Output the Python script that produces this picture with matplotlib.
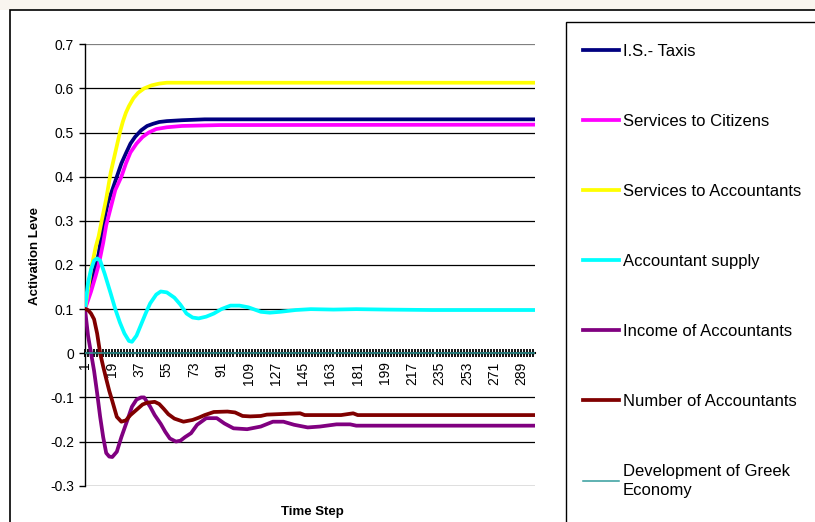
# -*- coding: utf-8 -*-
# activation levels over time steps, excel style line chart

# %% importing
import matplotlib as mpl
from matplotlib import pyplot as plt
from matplotlib.patches import Rectangle
import numpy as np

mpl.rcParams['font.family'] = ['Liberation Sans', 'DejaVu Sans']

# %% data
labels = ['I.S.- Taxis', 'Services to Citizens', 'Services to Accountants',
          'Accountant supply', 'Income of Accountants', 'Number of Accountants',
          'Development of Greek\nEconomy']
colors = ['#000080', '#ff00ff', '#ffff00', '#00ffff', '#800080', '#800000', '#339c9c']

taxis_t = [1, 5, 8, 10, 13, 16, 19, 22, 25, 28, 31, 34, 38, 42, 46, 50, 55, 65, 80, 298]
taxis_v = [0.10, 0.16, 0.20, 0.225, 0.29, 0.34, 0.37, 0.40, 0.43, 0.453, 0.475, 0.49,
           0.505, 0.515, 0.52, 0.524, 0.526, 0.528, 0.53, 0.53]

citizens_t = [1, 5, 8, 10, 13, 15, 18, 21, 25, 28, 31, 35, 39, 43, 48, 55, 65, 90, 298]
citizens_v = [0.10, 0.14, 0.175, 0.20, 0.25, 0.29, 0.33, 0.37, 0.40, 0.43, 0.455, 0.475,
              0.49, 0.50, 0.508, 0.512, 0.515, 0.517, 0.518]

accountants_t = [1, 5, 8, 10, 12, 15, 18, 20, 24, 26, 28, 30, 33, 36, 40, 45, 50, 55, 298]
accountants_v = [0.10, 0.19, 0.24, 0.265, 0.30, 0.35, 0.41, 0.44, 0.50, 0.525, 0.545,
                 0.56, 0.578, 0.59, 0.60, 0.607, 0.611, 0.613, 0.613]

supply_t = [1, 3, 5, 7, 9, 11, 14, 18, 21, 24, 27, 30, 32, 35, 38, 41, 44, 48, 51, 55,
            60, 64, 68, 72, 76, 81, 86, 91, 97, 103, 109, 117, 123, 130, 140, 150, 165,
            180, 200, 230, 298]
supply_v = [0.10, 0.16, 0.19, 0.21, 0.215, 0.21, 0.18, 0.135, 0.10, 0.07, 0.045, 0.028,
            0.026, 0.04, 0.065, 0.09, 0.113, 0.133, 0.14, 0.138, 0.126, 0.11, 0.09,
            0.081, 0.079, 0.083, 0.09, 0.10, 0.108, 0.108, 0.104, 0.094, 0.092, 0.094,
            0.098, 0.10, 0.099, 0.10, 0.099, 0.098, 0.098]

income_t = [1, 2, 3, 5, 7, 9, 11, 13, 15, 17, 19, 22, 25, 29, 32, 35, 38, 40, 44, 47,
            51, 54, 57, 61, 64, 67, 71, 75, 81, 88, 93, 99, 108, 117, 125, 132, 139,
            148, 156, 167, 176, 180, 298]
income_v = [0.10, 0.07, 0.04, 0.0, -0.04, -0.09, -0.144, -0.19, -0.226, -0.234, -0.235,
            -0.223, -0.19, -0.151, -0.121, -0.105, -0.10, -0.10, -0.121, -0.14, -0.16,
            -0.178, -0.193, -0.20, -0.198, -0.19, -0.181, -0.162, -0.147, -0.147,
            -0.159, -0.17, -0.172, -0.166, -0.155, -0.155, -0.162, -0.168, -0.166,
            -0.161, -0.161, -0.164, -0.164]

number_t = [1, 3, 5, 7, 9, 11, 13, 15, 17, 19, 22, 25, 28, 31, 35, 39, 42, 47, 50, 53,
            56, 60, 66, 72, 76, 80, 86, 95, 100, 105, 110, 117, 121, 135, 143, 146, 170,
            178, 181, 298]
number_v = [0.10, 0.098, 0.09, 0.077, 0.045, 0.0, -0.03, -0.058, -0.085, -0.108, -0.144,
            -0.155, -0.152, -0.14, -0.128, -0.116, -0.112, -0.11, -0.115, -0.126,
            -0.138, -0.148, -0.155, -0.151, -0.146, -0.14, -0.133, -0.132, -0.134,
            -0.142, -0.143, -0.142, -0.139, -0.137, -0.136, -0.14, -0.14, -0.136,
            -0.14, -0.14]

economy_t = [1, 298]
economy_v = [0.0, 0.0]

yticks = [0.7, 0.6, 0.5, 0.4, 0.3, 0.2, 0.1, 0, -0.1, -0.2, -0.3]
ytick_labels = ['0.7', '0.6', '0.5', '0.4', '0.3', '0.2', '0.1', '0', '-0.1', '-0.2', '-0.3']
xticks = list(range(1, 298, 18))

# %% plotting
fig = plt.figure(figsize=(8.15, 5.22), dpi=100)

# page strip and chart frame
fig.add_artist(Rectangle((0, 1 - 9.5 / 522), 1, 1, transform=fig.transFigure,
                         facecolor='#f9f5ef', edgecolor='none', zorder=0))
fig.add_artist(Rectangle((10 / 815, -0.1), 1.2, 1.1 - 9.5 / 522, transform=fig.transFigure,
                         fill=False, edgecolor='black', lw=1.2, clip_on=False))
fig.add_artist(Rectangle((566 / 815, -0.1), 1.2, 1.1 - 22 / 522, transform=fig.transFigure,
                         fill=False, edgecolor='black', lw=1.0, clip_on=False))

ax = fig.add_axes([85 / 815, 1 - 485.7 / 522, 450 / 815, 441.4 / 522])
ax.set_facecolor('none')

series = [(taxis_t, taxis_v), (citizens_t, citizens_v), (accountants_t, accountants_v),
          (supply_t, supply_v), (income_t, income_v), (number_t, number_v)]
handles = []
for (t, v), c, lab in zip(series, colors[:6], labels[:6]):
    h, = ax.plot(t, v, color=c, lw=2.7, solid_joinstyle='round', label=lab, zorder=3)
    handles.append(h)
h, = ax.plot(economy_t, economy_v, color=colors[6], lw=1.1, label=labels[6], zorder=4)
handles.append(h)

ax.set_xlim(1, 298)
ax.set_ylim(-0.3, 0.7)

for y in yticks:
    ax.axhline(y, color='#808080' if y == 0.7 else 'black', lw=0.9, zorder=1)

ax.spines['top'].set_visible(False)
ax.spines['right'].set_visible(False)
ax.spines['bottom'].set_position(('data', 0))
ax.spines['bottom'].set_linewidth(1.5)
ax.spines['left'].set_linewidth(1.0)

ax.set_yticks(yticks)
ax.set_yticklabels(ytick_labels, fontsize=10)
ax.tick_params(axis='y', direction='out', length=4, width=1, pad=4)

ax.set_xticks(xticks)
ax.set_xticklabels([str(x) for x in xticks], rotation=90, fontsize=10)
ax.set_xticks(np.arange(1, 299, 2), minor=True)
ax.tick_params(axis='x', which='both', direction='inout', length=6, width=1.3, pad=3)

fig.text(35 / 815, 1 - 256 / 522, 'Activation Leve', rotation=90, ha='center',
         va='center', fontsize=9.5, fontweight='bold')
fig.text(312 / 815, 1 - 512 / 522, 'Time Step', ha='center', va='center',
         fontsize=9.5, fontweight='bold')

leg = fig.legend(handles=handles, labels=labels, loc='upper left',
                 bbox_to_anchor=(568 / 815, 1 - 29 / 522), frameon=False,
                 fontsize=12, handlelength=2.15, handletextpad=0.25, labelspacing=3.3)
leg.get_texts()[-1].set_linespacing(1.35)

plt.savefig('out.png', dpi=100)
